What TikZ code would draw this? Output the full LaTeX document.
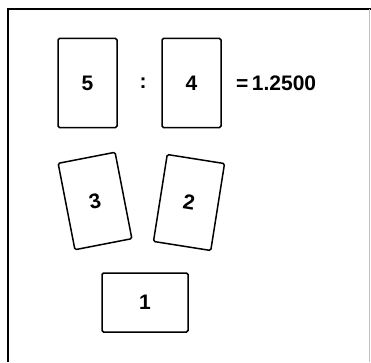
\documentclass[tikz,border=0pt]{standalone}
\usepackage{fontspec}
\setmainfont{Liberation Sans}
\begin{document}
\begin{tikzpicture}[x=1pt,y=1pt,
  card/.style={draw=black,line width=1.5pt,rounded corners=1.5pt,inner sep=0pt,font=\fontsize{21}{21}\selectfont\bfseries},
  tall/.style={card,minimum width=59pt,minimum height=89pt},
  wide/.style={card,minimum width=86pt,minimum height=59pt},
  lbl/.style={inner sep=0pt,font=\fontsize{21}{21}\selectfont\bfseries}]
\useasboundingbox (0,0) rectangle (371,362);
\fill[white] (0,0) rectangle (371,362);
\draw[line width=2pt] (8,0) -- (8,353) -- (371,353);
\draw[line width=0.6pt,black!25] (369.5,353) -- (369.5,0);
\node[tall] (c5) at (87.5,279) {5};
\node[tall] (c4) at (191.5,279) {4};
\node[lbl] (colon) at (143,278.5) {:};
\node[lbl,anchor=west] (eq) at (236,278.5) {=\,1.2500};
\node[card,minimum width=58pt,minimum height=88pt,rotate=11] (c3) at (95,161) {3};
\node[card,minimum width=58pt,minimum height=88pt,rotate=-9] (c2) at (189,159.5) {2};
\node[wide] (c1) at (145,59.5) {1};
\end{tikzpicture}
\end{document}
